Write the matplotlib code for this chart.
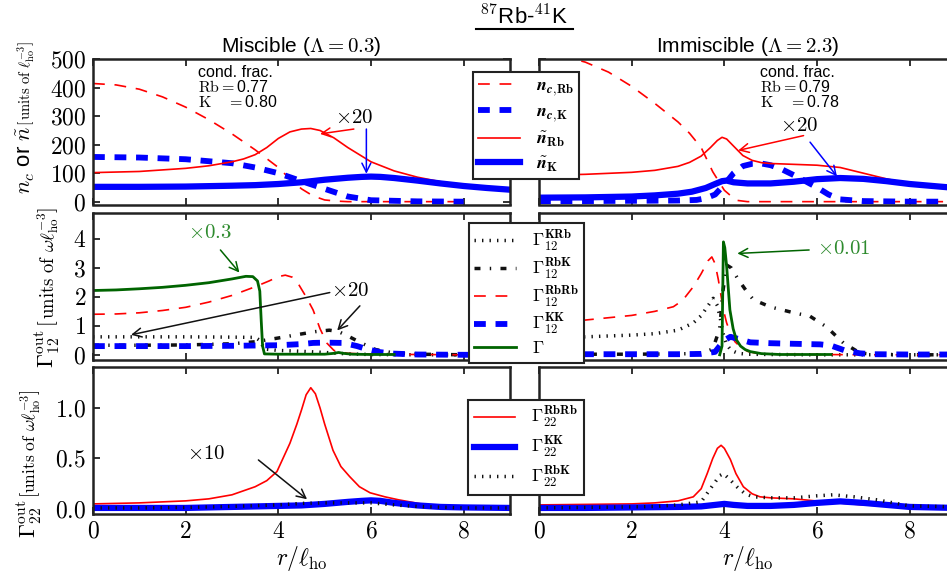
import numpy as np
import matplotlib as mpl
import matplotlib.pyplot as plt
from matplotlib.lines import Line2D
from matplotlib.mathtext import MathTextParser

mpl.rcParams['font.family'] = ['Liberation Sans', 'DejaVu Sans']
mpl.rcParams['mathtext.fontset'] = 'cm'
mpl.rcParams['lines.scale_dashes'] = False

# ---------------- data ----------------
# top row: densities, miscible (left) / immiscible (right)
r_ncRb_mis = [0, 0.5, 1, 1.5, 2, 2.5, 3, 3.5, 4, 4.25, 4.5, 4.75, 5, 5.25, 5.5, 6, 7, 8]
ncRb_mis = [415, 410, 395, 368, 332, 288, 238, 182, 120, 80, 45, 20, 6, 2, 0, 0, 0, 0]
r_ncK_mis = [0, 1, 2, 3, 3.5, 4, 4.5, 5, 5.5, 6, 7, 8]
ncK_mis = [157, 155, 149, 135, 120, 100, 72, 45, 18, 5, 1, 0]
r_nRb_mis = [0, 1, 2, 2.5, 3, 3.25, 3.5, 3.75, 4.0, 4.25, 4.5, 4.7, 4.9, 5.2, 5.5, 6, 6.5, 7, 7.5, 8, 8.5, 9]
nRb_mis = [102, 106, 117, 126, 140, 150, 165, 190, 222, 245, 255, 257, 250, 224, 190, 140, 108, 86, 70, 59, 51, 45]
r_nK_mis = [0, 1, 2, 3, 3.5, 4, 4.5, 5, 5.5, 5.8, 6, 6.2, 6.5, 7, 7.5, 8, 8.5, 9]
nK_mis = [52, 52, 53, 56, 58, 62, 68, 77, 84, 87, 88, 87, 83, 74, 64, 55, 48, 42]

r_ncRb_imm = [0, 0.5, 1, 1.5, 2, 2.5, 3, 3.25, 3.5, 3.75, 4, 4.25, 4.5, 5, 6, 7, 8, 9]
ncRb_imm = [519, 512, 490, 455, 405, 345, 280, 240, 190, 105, 40, 5, 0, 0, 0, 0, 0, 0]
r_ncK_imm = [0, 1, 2, 3, 3.4, 3.6, 3.8, 4.0, 4.2, 4.4, 4.6, 4.8, 5.0, 5.25, 5.5, 5.75, 6, 6.25, 6.5, 7, 8, 9]
ncK_imm = [2, 2, 3, 4, 6, 12, 25, 60, 100, 125, 133, 134, 128, 113, 93, 72, 50, 25, 8, 2, 0, 0]
r_nRb_imm = [0, 1, 2, 2.5, 3, 3.25, 3.5, 3.7, 3.85, 3.95, 4.05, 4.2, 4.4, 4.6, 4.8, 5, 5.5, 6, 6.5, 7, 7.5, 8, 8.5, 9]
nRb_imm = [92, 96, 103, 110, 124, 138, 160, 190, 215, 226, 220, 195, 162, 145, 137, 134, 131, 128, 120, 100, 80, 63, 50, 42]
r_nK_imm = [0, 1, 2, 2.5, 3, 3.3, 3.6, 3.8, 3.95, 4.05, 4.2, 4.5, 5, 5.5, 6, 6.5, 7, 7.5, 8, 8.5, 9]
nK_imm = [14, 15, 18, 22, 28, 35, 48, 62, 72, 74, 68, 64, 64, 70, 79, 83, 80, 72, 62, 55, 48]

# middle row: Gamma_12
r_G_mis = [0, 0.5, 1, 1.5, 2, 2.5, 3, 3.3, 3.45, 3.55, 3.6, 3.63, 3.66, 3.7, 4, 5, 5.2, 5.3, 5.4, 5.6, 6, 6.5]
G_mis = [2.22, 2.24, 2.28, 2.33, 2.40, 2.49, 2.62, 2.71, 2.70, 2.55, 2.2, 1.2, 0.3, 0.03, 0.02, 0.02, 0.05, 0.08, 0.05, 0.02, 0.01, 0.01]
r_RbRb12_mis = [0, 0.5, 1, 1.5, 2, 2.5, 3, 3.5, 3.8, 4.0, 4.15, 4.3, 4.45, 4.6, 4.75, 4.9, 5.05, 5.2, 5.5, 6, 7, 8, 9]
RbRb12_mis = [1.40, 1.41, 1.45, 1.53, 1.64, 1.82, 2.05, 2.35, 2.55, 2.70, 2.75, 2.68, 2.40, 2.0, 1.55, 0.9, 0.4, 0.15, 0.05, 0.02, 0.01, 0, 0]
r_KRb12_mis = [0, 1, 2, 3, 3.5, 3.6, 3.7, 4, 4.5, 5, 5.5, 6, 7, 9]
KRb12_mis = [0.62, 0.62, 0.62, 0.61, 0.60, 0.5, 0.2, 0.15, 0.12, 0.08, 0.03, 0.01, 0, 0]
r_RbK12_mis = [0, 1, 2, 3, 3.5, 4, 4.5, 4.8, 5.1, 5.3, 5.5, 5.8, 6.1, 6.5, 7, 8, 9]
RbK12_mis = [0.33, 0.33, 0.34, 0.38, 0.45, 0.58, 0.72, 0.80, 0.85, 0.80, 0.65, 0.40, 0.18, 0.06, 0.02, 0, 0]
r_KK12_mis = [0, 1, 2, 3, 4, 4.5, 4.75, 5, 5.4, 5.7, 5.9, 6.2, 6.5, 7, 8, 9]
KK12_mis = [0.30, 0.30, 0.30, 0.31, 0.33, 0.37, 0.41, 0.42, 0.41, 0.30, 0.20, 0.09, 0.04, 0.01, 0, 0]

r_G_imm = [3.9, 3.95, 3.98, 4.01, 4.05, 4.12, 4.19, 4.26, 4.35, 4.45, 4.56, 4.8, 5.2, 6.3]
G_imm = [0.0, 0.3, 3.9, 3.7, 3.05, 1.55, 0.9, 0.52, 0.3, 0.18, 0.11, 0.04, 0.01, 0.01]
r_RbRb12_imm = [0, 0.5, 1, 1.5, 2, 2.5, 2.9, 3.1, 3.33, 3.5, 3.65, 3.73, 3.8, 3.87, 3.98, 4.05, 4.13, 4.23, 4.34, 4.5, 4.7, 5, 6, 7, 8, 9]
RbRb12_imm = [1.12, 1.15, 1.2, 1.28, 1.36, 1.5, 1.66, 1.88, 2.35, 2.8, 3.25, 3.38, 3.15, 2.6, 1.55, 1.1, 0.75, 0.45, 0.28, 0.12, 0.05, 0.02, 0.01, 0, 0, 0]
r_KRb12_imm = [0, 0.5, 1, 1.5, 2, 2.5, 3, 3.33, 3.5, 3.65, 3.76, 3.85, 3.92, 3.97, 4.05, 4.15, 4.3, 4.5, 5, 6, 7, 9]
KRb12_imm = [0.58, 0.60, 0.62, 0.65, 0.68, 0.73, 0.85, 1.1, 1.35, 1.7, 1.95, 1.7, 1.2, 0.75, 0.35, 0.15, 0.05, 0.02, 0.01, 0, 0, 0]
r_RbK12_imm = [0, 1, 2, 3, 3.5, 3.75, 3.9, 3.97, 4.05, 4.15, 4.3, 4.5, 4.63, 5, 5.5, 5.85, 6.2, 6.57, 6.93, 7.2, 8, 9]
RbK12_imm = [0.02, 0.02, 0.02, 0.03, 0.05, 0.2, 0.9, 2.2, 3.1, 3.0, 2.6, 2.15, 1.9, 1.65, 1.45, 1.33, 0.97, 0.41, 0.06, 0.02, 0, 0]
r_KK12_imm = [0, 1, 2, 3, 3.5, 3.8, 3.9, 4.0, 4.13, 4.3, 4.56, 5, 5.5, 6.07, 6.3, 6.44, 6.6, 6.93, 7.2, 8, 9]
KK12_imm = [0.02, 0.02, 0.02, 0.02, 0.03, 0.1, 0.3, 0.5, 0.62, 0.55, 0.43, 0.40, 0.38, 0.36, 0.32, 0.24, 0.15, 0.05, 0.02, 0.01, 0.01]

# bottom row: Gamma_22
r_RbRb22_mis = [0, 1, 2, 2.5, 3, 3.5, 3.75, 3.97, 4.1, 4.25, 4.4, 4.5, 4.6, 4.7, 4.8, 4.9, 5.0, 5.18, 5.35, 5.54, 5.75, 5.98, 6.3, 6.6, 7.2, 8, 9]
RbRb22_mis = [0.05, 0.06, 0.08, 0.10, 0.14, 0.22, 0.28, 0.37, 0.50, 0.65, 0.84, 0.98, 1.13, 1.20, 1.14, 1.0, 0.84, 0.58, 0.42, 0.32, 0.22, 0.16, 0.12, 0.09, 0.04, 0.02, 0.01]
r_KK22_mis = [0, 1, 2, 3, 4, 4.5, 5, 5.5, 5.8, 6, 6.2, 6.5, 7, 7.5, 8, 9]
KK22_mis = [0.01, 0.01, 0.01, 0.02, 0.03, 0.035, 0.05, 0.07, 0.08, 0.085, 0.08, 0.06, 0.035, 0.02, 0.015, 0.01]
r_RbK22_mis = [0, 1, 2, 3, 4, 4.5, 5, 5.5, 6, 6.5, 7, 8, 9]
RbK22_mis = [0.01, 0.01, 0.015, 0.025, 0.04, 0.055, 0.06, 0.06, 0.06, 0.04, 0.025, 0.01, 0.01]

r_RbRb22_imm = [0, 1, 2, 2.5, 3, 3.33, 3.5, 3.63, 3.75, 3.85, 3.93, 4.0, 4.13, 4.25, 4.41, 4.6, 4.77, 5, 5.5, 6.2, 7, 8, 9]
RbRb22_imm = [0.04, 0.045, 0.05, 0.06, 0.08, 0.12, 0.2, 0.35, 0.5, 0.6, 0.63, 0.6, 0.49, 0.35, 0.22, 0.15, 0.12, 0.11, 0.10, 0.07, 0.04, 0.02, 0.01]
r_KK22_imm = [0, 1, 2, 3, 3.5, 3.8, 4.0, 4.2, 4.5, 5, 5.5, 6, 6.5, 7, 7.5, 8, 9]
KK22_imm = [0.01, 0.01, 0.015, 0.02, 0.025, 0.04, 0.05, 0.04, 0.03, 0.03, 0.04, 0.06, 0.075, 0.06, 0.04, 0.02, 0.01]
r_RbK22_imm = [0, 1, 2, 2.5, 3, 3.5, 3.76, 3.9, 3.98, 4.1, 4.27, 4.45, 4.63, 5, 5.5, 6, 6.35, 6.8, 7.3, 8, 9]
RbK22_imm = [0.01, 0.015, 0.02, 0.025, 0.04, 0.07, 0.24, 0.33, 0.35, 0.30, 0.22, 0.15, 0.12, 0.11, 0.11, 0.13, 0.14, 0.12, 0.09, 0.03, 0.02]

cond_frac = {'mis': (0.77, 0.80), 'imm': (0.79, 0.78)}
x_ticks = [0, 2, 4, 6, 8]
y_ticks = [[0, 100, 200, 300, 400, 500], [0, 1, 2, 3, 4], [0.0, 0.5, 1.0]]
y_ticklabels = [['0', '100', '200', '300', '400', '500'], ['0', '1', '2', '3', '4'], ['0.0', '0.5', '1.0']]
y_lims = [(-10, 500), (-0.18, 4.88), (-0.05, 1.405)]


def has_boldsymbol():
    try:
        MathTextParser('path').parse(r'$\boldsymbol{n}$')
        return True
    except Exception:
        return False


bs = r'\boldsymbol' if has_boldsymbol() else r'\mathbf'

# line styles
RED_DASH = dict(color='red', lw=1.2, dashes=(8.5, 7))
BLUE_DASH = dict(color='blue', lw=4.2, dashes=(8.5, 7))
RED = dict(color='red', lw=1.2)
BLUE = dict(color='blue', lw=4.5)
DOT = dict(color='#111111', lw=2.5, dashes=(1, 4.4))
DASHDOT = dict(color='#111111', lw=2.5, dashes=(4.3, 6.7, 1, 6.7))
GREEN = dict(color='#006400', lw=2)
EDGE = '#222222'

W, H = 947, 574
fig = plt.figure(figsize=(W / 100, H / 100), dpi=100)


def box(x0, x1, y0, y1):
    return [x0 / W, 1 - y1 / H, (x1 - x0) / W, (y1 - y0) / H]


cols = [(93, 510), (539, 956)]
rows = [(59.3, 204.5), (213.5, 360), (367, 514)]
axes = [[fig.add_axes(box(c[0], c[1], r[0], r[1])) for c in cols] for r in rows]

for i in range(3):
    for j in range(2):
        ax = axes[i][j]
        for s in ax.spines.values():
            s.set_linewidth(1.8)
            s.set_color(EDGE)
        ax.set_xlim(0, 9)
        ax.set_ylim(*y_lims[i])
        ax.set_xticks(x_ticks)
        ax.set_yticks(y_ticks[i])
        ax.tick_params(direction='in', length=5, width=1.3, color=EDGE, top=True, right=True,
                       labelsize=17, pad=5)
        if i == 2:
            ax.set_xticklabels(['$%d$' % t for t in x_ticks])
            ax.set_xlabel(r'$r/\ell_{\mathrm{ho}}$', fontsize=17, labelpad=1)
        else:
            ax.set_xticklabels([])
        if j == 0:
            ax.set_yticklabels(['$%s$' % t for t in y_ticklabels[i]])
        else:
            ax.set_yticklabels([])

# ---- top row ----
a, b = axes[0]
a.plot(r_ncRb_mis, ncRb_mis, **RED_DASH, label=r'$%s{n}_{%s{c}{,}\mathbf{Rb}}$' % (bs, bs))
a.plot(r_ncK_mis, ncK_mis, **BLUE_DASH, label=r'$%s{n}_{%s{c}{,}\mathbf{K}}$' % (bs, bs))
a.plot(r_nRb_mis, nRb_mis, **RED, label=r'$\tilde{%s{n}}_{\mathbf{Rb}}$' % bs)
a.plot(r_nK_mis, nK_mis, **BLUE, label=r'$\tilde{%s{n}}_{\mathbf{K}}$' % bs)
b.plot(r_ncRb_imm, ncRb_imm, **RED_DASH)
b.plot(r_ncK_imm, ncK_imm, **BLUE_DASH)
b.plot(r_nRb_imm, nRb_imm, **RED)
b.plot(r_nK_imm, nK_imm, **BLUE)

for ax, key, x0 in [(a, 'mis', 2.27), (b, 'imm', 4.77)]:
    ax.text(x0, 455, 'cond. frac.', fontsize=11.5, va='center')
    ax.text(x0, 403, r'$\mathrm{Rb}=$%.2f' % cond_frac[key][0], fontsize=11.5, va='center')
    ax.text(x0, 351, r'$\mathrm{K}\ \ \ \,=$%.2f' % cond_frac[key][1], fontsize=11.5, va='center')

ARW = dict(arrowstyle='->', lw=1.1, mutation_scale=16, shrinkA=0, shrinkB=0)
a.text(5.64, 296, r'$\times20$', fontsize=15, ha='center', va='center')
a.annotate('', xy=(4.9, 238), xytext=(5.63, 255), arrowprops=dict(color='red', **ARW))
a.annotate('', xy=(5.9, 98), xytext=(5.9, 255), arrowprops=dict(color='blue', **ARW))
b.text(5.62, 267, r'$\times20$', fontsize=15, ha='center', va='center')
b.annotate('', xy=(4.3, 180), xytext=(5.71, 232), arrowprops=dict(color='red', **ARW))
b.annotate('', xy=(6.43, 89), xytext=(5.85, 209), arrowprops=dict(color='blue', **ARW))

# ---- middle row ----
a, b = axes[1]
a.plot(r_KRb12_mis, KRb12_mis, **DOT, label=r'$\Gamma_{\mathbf{12}}^{\mathbf{KRb}}$')
a.plot(r_RbK12_mis, RbK12_mis, **DASHDOT, label=r'$\Gamma_{\mathbf{12}}^{\mathbf{RbK}}$')
a.plot(r_RbRb12_mis, RbRb12_mis, **RED_DASH, label=r'$\Gamma_{\mathbf{12}}^{\mathbf{RbRb}}$')
a.plot(r_KK12_mis, KK12_mis, **BLUE_DASH, label=r'$\Gamma_{\mathbf{12}}^{\mathbf{KK}}$')
a.plot(r_G_mis, G_mis, **GREEN, label=r'$\Gamma$')
b.plot(r_KRb12_imm, KRb12_imm, **DOT)
b.plot(r_RbK12_imm, RbK12_imm, **DASHDOT)
b.plot(r_RbRb12_imm, RbRb12_imm, **RED_DASH)
b.plot(r_KK12_imm, KK12_imm, **BLUE_DASH)
b.plot(r_G_imm, G_imm, **GREEN)

GTXT = '#2e8b2e'
a.text(2.52, 4.22, r'$\times0.3$', fontsize=15, color=GTXT, ha='center', va='center')
a.annotate('', xy=(3.16, 2.84), xytext=(2.75, 3.62), arrowprops=dict(color=GREEN['color'], **ARW))
a.text(5.54, 2.21, r'$\times20$', fontsize=15, ha='center', va='center')
a.annotate('', xy=(0.82, 0.69), xytext=(5.11, 2.15), arrowprops=dict(color='#111111', **ARW))
a.annotate('', xy=(5.27, 0.84), xytext=(5.76, 1.69), arrowprops=dict(color='#111111', **ARW))
b.text(6.57, 3.68, r'$\times0.01$', fontsize=15, color=GTXT, ha='center', va='center')
b.annotate('', xy=(4.28, 3.5), xytext=(5.83, 3.62), arrowprops=dict(color=GREEN['color'], **ARW))

# ---- bottom row ----
a, b = axes[2]
a.plot(r_RbRb22_mis, RbRb22_mis, **RED, label=r'$\Gamma_{\mathbf{22}}^{\mathbf{RbRb}}$')
a.plot(r_KK22_mis, KK22_mis, **BLUE, label=r'$\Gamma_{\mathbf{22}}^{\mathbf{KK}}$')
a.plot(r_RbK22_mis, RbK22_mis, **DOT, label=r'$\Gamma_{\mathbf{22}}^{\mathbf{RbK}}$')
b.plot(r_RbRb22_imm, RbRb22_imm, **RED)
b.plot(r_KK22_imm, KK22_imm, **BLUE)
b.plot(r_RbK22_imm, RbK22_imm, **DOT)
a.text(2.44, 0.55, r'$\times10$', fontsize=15, ha='center', va='center')
a.annotate('', xy=(4.62, 0.096), xytext=(3.57, 0.485), arrowprops=dict(color='#111111', **ARW))

# ---- titles ----
axes[0][0].set_title(r'Miscible ($\Lambda=0.3$)', fontsize=15, pad=5)
axes[0][1].set_title(r'Immiscible ($\Lambda=2.3$)', fontsize=15, pad=5)
fig.text(524 / W, 1 - 17 / H, r'$^{87}$Rb-$^{41}$K', fontsize=16, ha='center', va='center')
fig.add_artist(Line2D([476 / W, 573 / W], [1 - 29 / H, 1 - 29 / H], color='k', lw=1.5))

# ---- legends ----
for ax, cx, cy, sp in [(axes[0][0], 526, 125.5, 0.3), (axes[1][0], 526.5, 293, 0.15),
                       (axes[2][0], 526, 447.5, 0.25)]:
    h, l = ax.get_legend_handles_labels()
    leg = fig.legend(h, l, loc='center', bbox_to_anchor=(cx / W, 1 - cy / H), fontsize=13,
                     fancybox=False, framealpha=1, edgecolor=EDGE, handlelength=2.3,
                     handletextpad=0.9, labelspacing=sp, borderpad=0.3, borderaxespad=0)
    leg.get_frame().set_linewidth(1.5)

# ---- y labels (two sizes) ----
for xb, yj, main, unit, ms, us in [
        (31, 125.5, r'$n_c$ or $\tilde{n}$', r'$\left[\,\mathrm{units\ of\ }\ell_{\mathrm{ho}}^{-3}\right]$', 16, 10.5),
        (54, 327, r'$\Gamma_{12}^{\mathrm{out}}$', r'$\left[\,\mathrm{units\ of\ }\omega\ell_{\mathrm{ho}}^{-3}\right]$', 16, 13.5),
        (36, 497.5, r'$\Gamma_{22}^{\mathrm{out}}$', r'$\left[\mathrm{units\ of\ }\omega\ell_{\mathrm{ho}}^{-3}\right]$', 16, 12.5)]:
    fig.text(xb / W, 1 - yj / H, main + ' ', rotation=90, rotation_mode='anchor',
             ha='right', va='baseline', fontsize=ms)
    fig.text(xb / W, 1 - yj / H, unit, rotation=90, rotation_mode='anchor',
             ha='left', va='baseline', fontsize=us)

fig.savefig('out.png', dpi=100)
